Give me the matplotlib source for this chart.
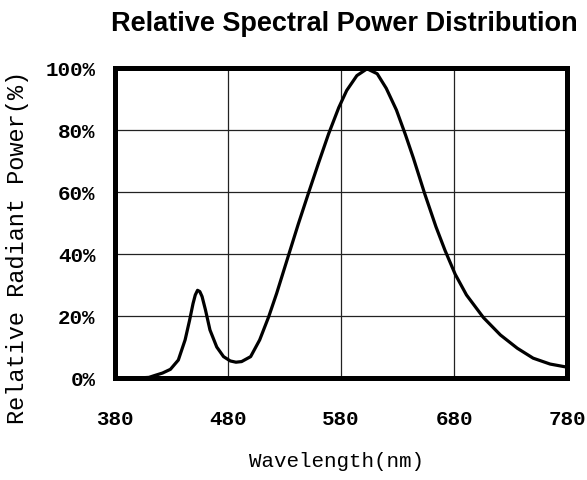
import matplotlib
matplotlib.use('Agg')
from matplotlib import rcParams
import matplotlib.pyplot as plt

rcParams['font.family'] = 'Liberation Mono'
rcParams['axes.unicode_minus'] = False

# spectrum (wavelength in nm, relative power in %)
wavelength = [380, 400, 410, 415, 422, 429, 436, 442, 446, 449, 451, 453, 455,
              457, 460, 464, 470, 476, 482, 487, 492, 500, 508, 516, 523, 533,
              542, 551, 560, 569, 578, 585, 594, 603, 612, 620, 629, 637, 644,
              654, 664, 672, 681, 691, 706, 721, 736, 750, 765, 780]
power = [0, 0, 0.2, 0.8, 1.6, 2.8, 5.8, 12.3, 18.7, 24, 26.8, 28.3, 27.9,
         26.3, 22, 15.5, 10, 6.9, 5.5, 5.1, 5.3, 6.9, 12.3, 19.8, 27.3, 39,
         49.5, 59.5, 69.3, 78.8, 87.3, 92.8, 97.6, 99.8, 98.2, 93.5, 86.5, 78.5, 71,
         59.5, 48.8, 41.2, 33.5, 26.8, 19.5, 13.9, 9.6, 6.4, 4.5, 3.5]

x_ticks = [380, 480, 580, 680, 780]
y_ticks = [0, 20, 40, 60, 80, 100]
y_tick_labels = ['0%', '20%', '40%', '60%', '80%', '100%']

fig = plt.figure(figsize=(5.87, 4.80), dpi=100)
ax = fig.add_axes([0.196, 0.2125, 0.770, 0.6455])

ax.plot(wavelength, power, color='black', lw=2.3, zorder=3, clip_on=False,
        solid_joinstyle='round')

ax.set_xlim(380, 780)
ax.set_ylim(0, 100)
ax.set_xticks(x_ticks)
ax.set_yticks(y_ticks)
ax.set_yticklabels(y_tick_labels)
ax.grid(True, color='#222222', lw=0.9, zorder=1)

for side in ['top', 'bottom', 'left', 'right']:
    ax.spines[side].set_linewidth(3.6)
    ax.spines[side].set_zorder(4)

ax.tick_params(axis='both', length=0, labelsize=15)
ax.tick_params(axis='x', pad=23)
ax.tick_params(axis='y', pad=14)
for lab in ax.get_xticklabels() + ax.get_yticklabels():
    lab.set_fontweight('bold')

ax.set_xlabel('Wavelength(nm)', fontsize=15)
ax.xaxis.set_label_coords(0.49, -0.24)
ax.set_ylabel('Relative Radiant Power(%)', fontsize=17)
ax.yaxis.set_label_coords(-0.19, 0.42)

fig.text(0.587, 0.95, 'Relative Spectral Power Distribution',
         fontsize=19.5, fontweight='bold', family='Liberation Sans',
         ha='center', va='center')

fig.savefig('out.png', dpi=100)
